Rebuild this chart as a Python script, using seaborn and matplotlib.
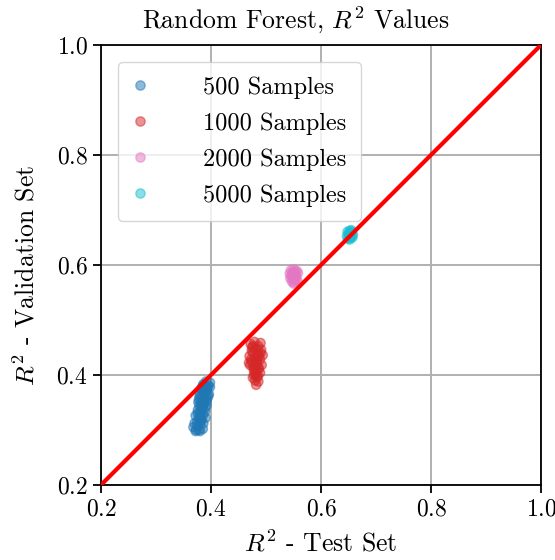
import pandas as pd
import seaborn as sns
import matplotlib.pyplot as plt

# R^2 on test set (x) and validation set (y) for each run
x_500 = [0.372, 0.378, 0.385, 0.368, 0.380, 0.375, 0.383, 0.378, 0.372, 0.386, 0.380, 0.376,
         0.384, 0.390, 0.379, 0.386, 0.382, 0.392, 0.378, 0.388, 0.383, 0.395, 0.380, 0.389,
         0.385, 0.392, 0.382, 0.388, 0.395, 0.386, 0.398, 0.391, 0.385, 0.384, 0.381, 0.389,
         0.375, 0.393, 0.370, 0.376, 0.383, 0.388, 0.392, 0.396, 0.379, 0.384, 0.393, 0.398,
         0.381, 0.386, 0.373, 0.380, 0.390, 0.377]
y_500 = [0.298, 0.300, 0.302, 0.305, 0.310, 0.315, 0.318, 0.322, 0.326, 0.328, 0.332, 0.336,
         0.338, 0.340, 0.344, 0.346, 0.350, 0.352, 0.355, 0.358, 0.361, 0.362, 0.365, 0.367,
         0.370, 0.372, 0.375, 0.378, 0.380, 0.383, 0.386, 0.388, 0.380, 0.345, 0.325, 0.333,
         0.308, 0.357, 0.312, 0.330, 0.342, 0.350, 0.345, 0.365, 0.360, 0.372, 0.376, 0.378,
         0.318, 0.312, 0.300, 0.298, 0.322, 0.350]

x_1000 = [0.472, 0.479, 0.490, 0.475, 0.482, 0.491, 0.477, 0.485, 0.470, 0.480, 0.489, 0.474,
          0.482, 0.492, 0.477, 0.486, 0.471, 0.481, 0.489, 0.478, 0.484, 0.480, 0.486, 0.482,
          0.487, 0.474, 0.483, 0.494, 0.469, 0.476, 0.486, 0.473, 0.480, 0.487, 0.484, 0.478,
          0.490, 0.485, 0.481, 0.476]
y_1000 = [0.456, 0.460, 0.458, 0.450, 0.448, 0.446, 0.440, 0.438, 0.434, 0.430, 0.428, 0.424,
          0.420, 0.418, 0.414, 0.411, 0.418, 0.406, 0.404, 0.400, 0.396, 0.390, 0.388, 0.382,
          0.434, 0.444, 0.426, 0.436, 0.422, 0.452, 0.452, 0.428, 0.415, 0.412, 0.420, 0.408,
          0.440, 0.398, 0.400, 0.395]

x_2000 = [0.545, 0.550, 0.556, 0.543, 0.548, 0.553, 0.558, 0.546, 0.551, 0.555, 0.544, 0.549,
          0.554, 0.547, 0.552, 0.557, 0.550, 0.548, 0.553]
y_2000 = [0.590, 0.592, 0.589, 0.584, 0.586, 0.583, 0.585, 0.580, 0.578, 0.579, 0.576, 0.574,
          0.573, 0.570, 0.568, 0.571, 0.566, 0.582, 0.588]

x_5000 = [0.648, 0.652, 0.656, 0.650, 0.654, 0.658, 0.647, 0.651, 0.655, 0.649, 0.653, 0.657,
          0.652, 0.655]
y_5000 = [0.660, 0.662, 0.660, 0.656, 0.657, 0.655, 0.652, 0.653, 0.651, 0.648, 0.649, 0.650,
          0.646, 0.663]

labels = ['500 Samples', '1000 Samples', '2000 Samples', '5000 Samples']
colors = ['#1f77b4', '#d62728', '#e377c2', '#17becf']

data = pd.concat([
    pd.DataFrame({'test': x, 'val': y, 'group': lab})
    for x, y, lab in zip([x_500, x_1000, x_2000, x_5000],
                         [y_500, y_1000, y_2000, y_5000], labels)
])

plt.rcParams['font.family'] = 'serif'
plt.rcParams['font.serif'] = ['cmr10']
plt.rcParams['mathtext.fontset'] = 'cm'
plt.rcParams['axes.unicode_minus'] = False
plt.rcParams['axes.formatter.use_mathtext'] = True

fig = plt.figure(figsize=(5.55, 5.6), dpi=100)
ax = fig.add_axes([0.182, 0.134, 0.793, 0.786])
ax.grid(True, color='#b0b0b0', lw=1.4, zorder=0)
ax.set_axisbelow(True)
ax.plot([0.2, 1.0], [0.2, 1.0], color='red', lw=3, zorder=3)
sns.scatterplot(data, x='test', y='val', hue='group', hue_order=labels, palette=colors,
                alpha=0.5, s=45, edgecolor='face', linewidth=1.0, ax=ax, zorder=2)
ax.set_xlim(0.2, 1.0)
ax.set_ylim(0.2, 1.0)
ax.set_xticks([0.2, 0.4, 0.6, 0.8, 1.0])
ax.set_yticks([0.2, 0.4, 0.6, 0.8, 1.0])
ax.tick_params(labelsize=17, length=6, width=1.3)
for sp in ax.spines.values():
    sp.set_linewidth(1.3)
ax.set_title('Random Forest, $R^2$ Values', fontsize=18.5, pad=12, x=0.443)
ax.set_xlabel('$R^2$ - Test Set', fontsize=18.5, labelpad=7)
ax.set_ylabel('$R^2$ - Validation Set', fontsize=18.5)
ax.yaxis.set_label_coords(-0.14, 0.475)
ax.legend(title=None, loc='upper left', fontsize=17.5, handlelength=0.6, handletextpad=2.3,
          borderaxespad=0.7, borderpad=0.6, labelspacing=0.55, markerscale=1.0, framealpha=0.8)

fig.savefig('out.png', dpi=100)
